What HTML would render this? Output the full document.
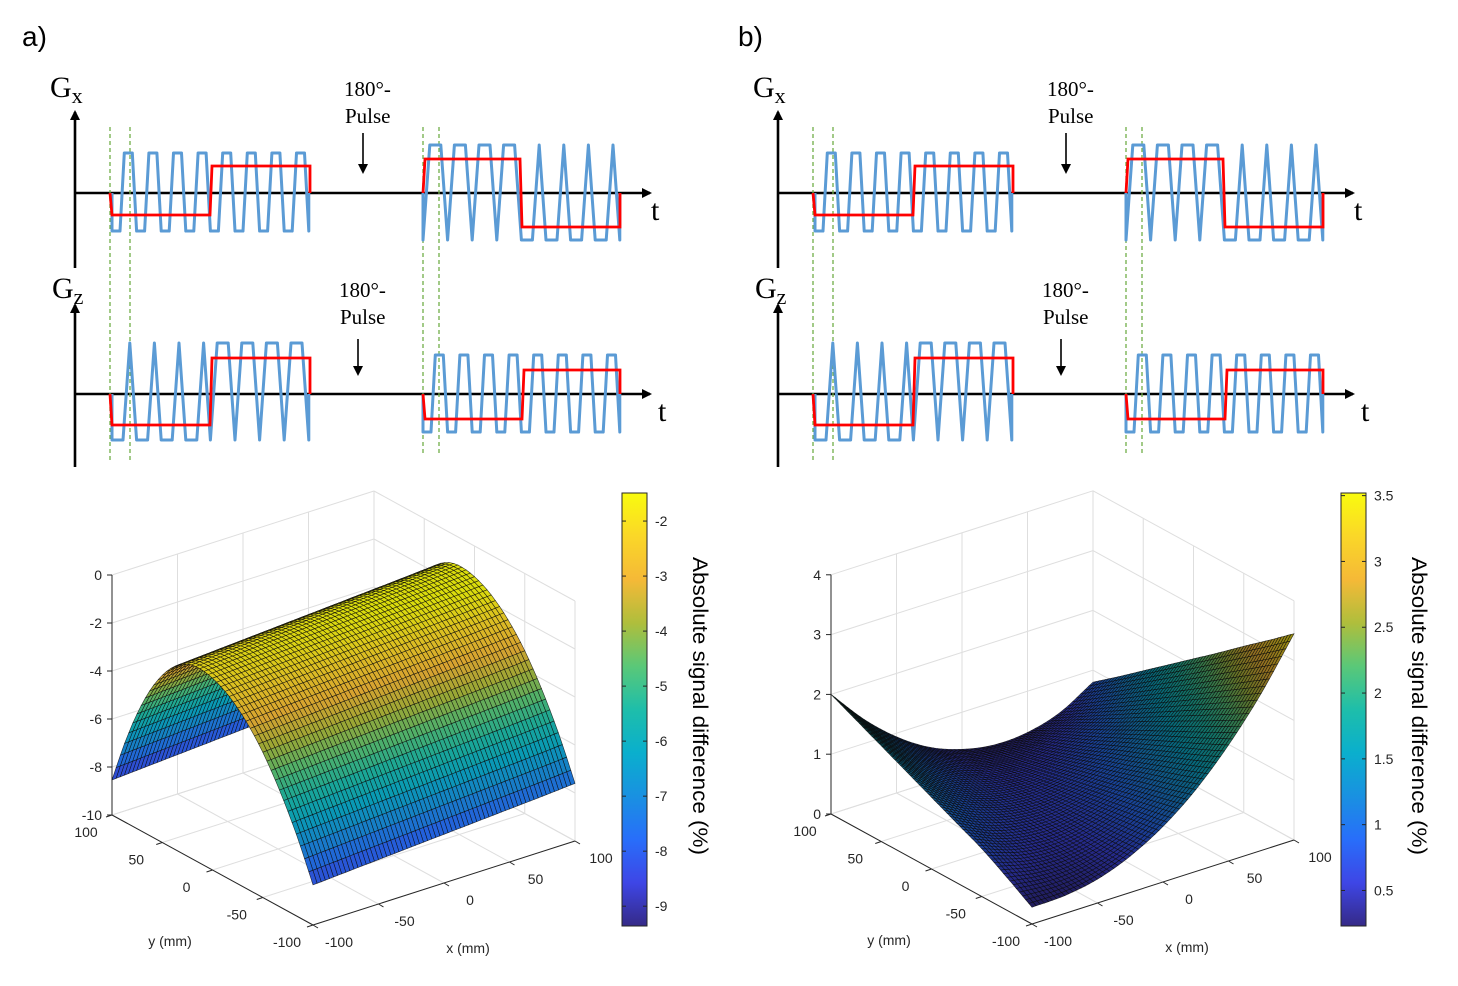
<!DOCTYPE html>
<html><head><meta charset="utf-8"><style>
html,body{margin:0;padding:0;background:#fff}
svg{display:block}
.serif{font-family:"Liberation Serif",serif}
.sans{font-family:"Liberation Sans",sans-serif}
.tk{font-family:"Liberation Sans",sans-serif;font-size:14px;fill:#262626}
</style></head><body>
<svg id="fig" width="1458" height="986" viewBox="0 0 1458 986" xmlns="http://www.w3.org/2000/svg">
<defs>
<linearGradient id="parula" x1="0" y1="1" x2="0" y2="0">
<stop offset="0" stop-color="rgb(53,42,135)"/><stop offset="0.1" stop-color="rgb(62,70,230)"/><stop offset="0.2" stop-color="rgb(40,110,250)"/><stop offset="0.3" stop-color="rgb(25,145,225)"/><stop offset="0.4" stop-color="rgb(10,175,205)"/><stop offset="0.5" stop-color="rgb(30,190,170)"/><stop offset="0.6" stop-color="rgb(90,200,120)"/><stop offset="0.7" stop-color="rgb(175,190,60)"/><stop offset="0.8" stop-color="rgb(245,185,55)"/><stop offset="0.9" stop-color="rgb(250,215,40)"/><stop offset="1" stop-color="rgb(249,251,14)"/>
</linearGradient>
<marker id="arr" markerWidth="10" markerHeight="10" refX="8" refY="5" orient="auto" markerUnits="userSpaceOnUse"><path d="M0,0 L10,5 L0,10 z" fill="#000"/></marker>
</defs>
<text x="22" y="46" class="sans" font-size="28">a)</text>
<text x="738" y="46" class="sans" font-size="28">b)</text>
<g id="diagA"></g>
<g id="diagB"></g>
<g id="plotA"></g>
<g id="plotB"></g>
</svg>
<script>
// ---------- chart data ----------
// Panel a: z (%) profile along y (y = 100 .. -100 step 12.5), plus offset along x (x = -100..100 step 25)
const aY = [100,87.5,75,62.5,50,37.5,25,12.5,0,-12.5,-25,-37.5,-50,-62.5,-75,-87.5,-100];
const aProfile = [-8.54,-6.73,-5.21,-3.97,-3.03,-2.37,-1.99,-1.9,-2.01,-2.27,-2.68,-3.24,-3.95,-4.82,-5.84,-7.0,-8.33];
const aX = [-100,-75,-50,-25,0,25,50,75,100];
const aXOffset = [0,0.09,0.18,0.27,0.36,0.45,0.54,0.63,0.73];
const aZTicks = [0,-2,-4,-6,-8,-10];
const aCbTicks = [-2,-3,-4,-5,-6,-7,-8,-9];
// Panel b: grid rows y = 100..-100 (step 25), cols x = -100..100 (step 25)
const bY = [100,75,50,25,0,-25,-50,-75,-100];
const bX = [-100,-75,-50,-25,0,25,50,75,100];
const bZ = [
 [2.0,1.41,0.94,0.59,0.38,0.28,0.31,0.47,0.80],
 [1.8,1.27,0.87,0.60,0.44,0.42,0.52,0.74,1.12],
 [1.6,1.14,0.81,0.60,0.51,0.55,0.72,1.01,1.45],
 [1.4,1.01,0.74,0.60,0.58,0.69,0.92,1.28,1.78],
 [1.2,0.88,0.68,0.60,0.65,0.83,1.13,1.55,2.11],
 [1.0,0.74,0.61,0.60,0.72,0.96,1.33,1.82,2.44],
 [0.8,0.61,0.54,0.60,0.79,1.10,1.53,2.09,2.78],
 [0.55,0.46,0.47,0.60,0.86,1.23,1.73,2.36,3.11],
 [0.28,0.30,0.40,0.61,0.93,1.37,1.94,2.63,3.45]];
const bZTicks = [0,1,2,3,4];
const bCbTicks = [3.5,3,2.5,2,1.5,1,0.5];
const axTicks = [-100,-50,0,50,100];

const NS='http://www.w3.org/2000/svg';
function mk(tag,attrs,parent){const e=document.createElementNS(NS,tag);for(const k in attrs)e.setAttribute(k,attrs[k]);parent.appendChild(e);return e;}
const stops=[[0,[53,42,135]],[0.1,[62,70,230]],[0.2,[40,110,250]],[0.3,[25,145,225]],[0.4,[10,175,205]],[0.5,[30,190,170]],[0.6,[90,200,120]],[0.7,[175,190,60]],[0.8,[245,185,55]],[0.9,[250,215,40]],[1,[249,251,14]]];
function parula(t,dark){t=Math.max(0,Math.min(1,t));let i=0;while(i<stops.length-2&&t>stops[i+1][0])i++;const a=stops[i],b=stops[i+1];const f=(t-a[0])/(b[0]-a[0]);const c=a[1].map((v,k)=>Math.round((v+(b[1][k]-v)*f)*dark));return `rgb(${c[0]},${c[1]},${c[2]})`;}

// ---------- sequence diagrams ----------
function wave(parent,x0,halves,top,bot,axisY,period){
  let pts=[[x0,axisY],[x0,bot]];let x=x0;
  halves.forEach(h=>{const r=(period-h.tf-h.bf)/2;for(let c=0;c<4;c++){pts.push([x+h.bf,bot]);pts.push([x+h.bf+r,top]);pts.push([x+h.bf+r+h.tf,top]);pts.push([x+period,bot]);x+=period;}});
  pts.push([x,axisY]);
  const p=mk('polyline',{points:pts.map(p=>p.join(',')).join(' '),fill:'none',stroke:'#5b9bd5','stroke-width':3,'stroke-linejoin':'round'},parent);
  
  
}
function red(parent,x0,x1,x2,l1,l2,axisY){
  const p=mk('polyline',{points:`${x0},${axisY} ${x0+2},${l1} ${x1},${l1} ${x1+2},${l2} ${x2},${l2} ${x2},${axisY}`,fill:'none',stroke:'#ff0000','stroke-width':2.8},parent);
  
  
}
function diagram(g,dx){
  const S=(x)=>x+dx;
  const ax=[[75,268,75,112],[75,193,650,193],[75,467,75,305],[75,394,650,394]];
  ax.forEach((a,i)=>{const l=mk('line',{x1:S(a[0]),y1:a[1],x2:S(a[2]),y2:a[3],stroke:'#000','stroke-width':2.6,'marker-end':'url(#arr)'},g);
    });
  [[110,127,460],[130,127,460],[423,127,455],[439,127,455]].forEach(d=>{const l=mk('line',{x1:S(d[0]),y1:d[1],x2:S(d[0]),y2:d[2],stroke:'#70ad47','stroke-width':1.3,'stroke-dasharray':'4,3'},g);
    });
  const P=24.6;
  wave(g,S(112),[{tf:8,bf:8},{tf:8,bf:8}],153,231,193,P);
  wave(g,S(423),[{tf:11,bf:0},{tf:0,bf:11}],145,240,193,P);
  wave(g,S(112),[{tf:0,bf:11},{tf:11,bf:0}],343,440,394,P);
  wave(g,S(423),[{tf:8,bf:8},{tf:8,bf:8}],355,432,394,P);
  red(g,S(110),S(210),S(310),215,166,193);
  red(g,S(423),S(520),S(620),159,227,193);
  red(g,S(110),S(210),S(310),425,358,394);
  red(g,S(423),S(522),S(620),419,370,394);
  const txt=(x,y,s,size,name)=>{const t=mk('text',{x:S(x),y:y,'font-size':size,class:'serif'},g);t.textContent=s;return t;};
  const gx=txt(50,97,'G',30,'gx-label');const ts=mk('tspan',{'font-size':22,dy:6},gx);ts.textContent='x';
  const gz=txt(52,298,'G',30,'gz-label');const ts2=mk('tspan',{'font-size':22,dy:6},gz);ts2.textContent='z';
  txt(344,96,'180°-',21,'pulse-label');txt(345,123,'Pulse',21,'pulse-label');
  txt(339,297,'180°-',21,'pulse-label');txt(340,324,'Pulse',21,'pulse-label');
  txt(651,220,'t',30,'time-label');txt(658,421,'t',30,'time-label');
  [[363,133,172],[358,339,374]].forEach(a=>{const l=mk('line',{x1:S(a[0]),y1:a[1],x2:S(a[0]),y2:a[2],stroke:'#000','stroke-width':1.6,'marker-end':'url(#arr)'},g);
    });
}
diagram(document.getElementById('diagA'),0);
diagram(document.getElementById('diagB'),703);

// ---------- 3D surface plots ----------
function makeProj(ox,oy,zmin,zs){
  return (x,y,z)=>{const u=(x+100)/200,v=(100-y)/200;return [ox+u*262+v*201, oy-u*84+v*110-(z-zmin)*zs];};
}
function plot3d(g,P,zmin,zmax,zTicks,zfun,ny,nx,suby,subx,cmin,cmax,dark,cb){
  const grid='#dedede';
  const line=(a,b,c,w,name)=>{const l=mk('line',{x1:a[0],y1:a[1],x2:b[0],y2:b[1],stroke:c,'stroke-width':w},g);};
  axTicks.forEach(t=>{
    line(P(t,100,zmin),P(t,100,zmax),grid,1,'grid-line');
    line(P(100,t,zmin),P(100,t,zmax),grid,1,'grid-line');
    line(P(t,100,zmin),P(t,-100,zmin),grid,1,'grid-line');
    line(P(-100,t,zmin),P(100,t,zmin),grid,1,'grid-line');
  });
  zTicks.forEach(z=>{line(P(-100,100,z),P(100,100,z),grid,1,'grid-line');line(P(100,100,z),P(100,-100,z),grid,1,'grid-line');});
  line(P(-100,100,zmin),P(-100,100,zmax),'#262626',1,'z-axis');
  line(P(-100,100,zmin),P(-100,-100,zmin),'#262626',1,'y-axis');
  line(P(-100,-100,zmin),P(100,-100,zmin),'#262626',1,'x-axis');
  zTicks.forEach(z=>{const p=P(-100,100,z);line(p,[p[0]-5,p[1]],'#262626',1,'z-tick');const t=mk('text',{x:p[0]-10,y:p[1]+5,'text-anchor':'end',class:'tk','font-size':15},g);t.textContent=z;});
  axTicks.forEach(v=>{let p=P(-100,v,zmin);line(p,[p[0]-6,p[1]+2],'#262626',1,'y-tick');let t=mk('text',{x:p[0]-26,y:p[1]+22,'text-anchor':'middle',class:'tk','font-size':15},g);t.textContent=v;
    p=P(v,-100,zmin);line(p,[p[0]+5,p[1]+3],'#262626',1,'x-tick');t=mk('text',{x:p[0]+26,y:p[1]+22,'text-anchor':'middle',class:'tk','font-size':15},g);t.textContent=v;});
  const o=P(-100,100,zmin);
  let t=mk('text',{x:o[0]+58,y:o[1]+131,'text-anchor':'middle',class:'tk','font-size':17},g);t.textContent='y (mm)';
  t=mk('text',{x:o[0]+356,y:o[1]+138,'text-anchor':'middle',class:'tk','font-size':17},g);t.textContent='x (mm)';
  const quads=[];
  const NY=(ny-1)*suby,NX=(nx-1)*subx;
  const pt=(i,j)=>{const fy=i/suby,fx=j/subx;const y=100-200*i/NY,x=-100+200*j/NX;return [x,y,zfun(fy,fx)];};
  for(let i=0;i<NY;i++)for(let j=0;j<NX;j++){
    const c=[pt(i,j),pt(i,j+1),pt(i+1,j+1),pt(i+1,j)];
    const zm=(c[0][2]+c[1][2]+c[2][2]+c[3][2])/4;
    const sp=c.map(q=>P(q[0],q[1],q[2]));
    const depth=P((c[0][0]+c[1][0])/2,(c[0][1]+c[3][1])/2,zmin)[1];
    quads.push({sp,zm,depth});
  }
  quads.sort((a,b)=>a.depth-b.depth);
  const sg=mk('g',{},g);
  quads.forEach(q=>{const p=mk('path',{d:'M'+q.sp.map(s=>s[0].toFixed(1)+','+s[1].toFixed(1)).join('L')+'Z',fill:parula((q.zm-cmin)/(cmax-cmin),dark),stroke:'#0a0a0a','stroke-width':0.6,'stroke-opacity':0.8},sg);
    
    });
  const r=mk('rect',{x:cb.x,y:493,width:25,height:433,fill:'url(#parula)',stroke:'#262626','stroke-width':1},g);
  cb.ticks.forEach(v=>{const y=926-(v-cmin)/(cmax-cmin)*433;line([cb.x+25,y],[cb.x+21,y],'#262626',1,'colorbar-tick');line([cb.x,y],[cb.x+4,y],'#262626',1,'colorbar-tick');
    const tt=mk('text',{x:cb.x+33,y:y+5,class:'tk','font-size':13},g);tt.textContent=v;});
  const ct=mk('text',{x:0,y:0,class:'sans','font-size':21,'text-anchor':'middle',textLength:298,lengthAdjust:'spacingAndGlyphs',transform:`translate(${cb.x+71},706) rotate(90)`,fill:'#000'},g);ct.textContent='Absolute signal difference (%)';
}
// Catmull-Rom sampling of a data array at fractional index (render smoothing only)
function cr(arr,f){const n=arr.length;let i=Math.min(Math.floor(f),n-2);const t=f-i;
  const p0=arr[Math.max(i-1,0)],p1=arr[i],p2=arr[i+1],p3=arr[Math.min(i+2,n-1)];
  const q0=i-1<0?2*p1-p2:p0,q3=i+2>n-1?2*p2-p1:p3;
  return 0.5*((2*p1)+(-q0+p2)*t+(2*q0-5*p1+4*p2-q3)*t*t+(-q0+3*p1-3*p2+q3)*t*t*t);}
const zA=(fy,fx)=>cr(aProfile,fy)+cr(aXOffset,fx);
plot3d(document.getElementById('plotA'),makeProj(112,815,-10,24),-10,0,aZTicks,zA,aY.length,aX.length,3,8,-9.36,-1.49,0.88,{x:622,ticks:aCbTicks});
const zB=(fy,fx)=>cr(bZ.map(row=>cr(row,fx)),fy);
plot3d(document.getElementById('plotB'),makeProj(831,814,0,59.8),0,4,bZTicks,zB,bY.length,bX.length,8,8,0.23,3.52,0.6,{x:1341,ticks:bCbTicks});
</script>
</body></html>
